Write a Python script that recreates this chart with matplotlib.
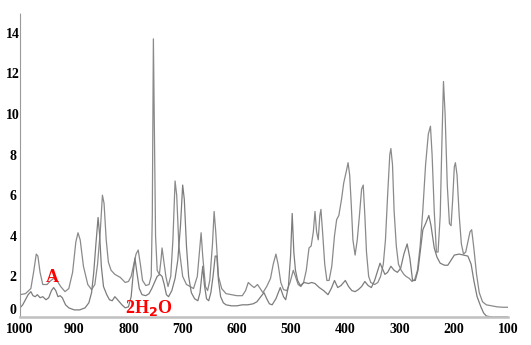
import matplotlib
matplotlib.use("Agg")
import matplotlib.pyplot as plt

# spectrum A (wavenumber, intensity)
a_x = [1000, 990, 980, 975, 970, 967, 963, 958, 950, 945, 938, 932, 925, 917, 910,
       903, 897, 893, 889, 883, 875, 868, 862, 857, 852, 848, 845, 841, 837, 832,
       825, 815, 806, 800, 795, 790, 786, 782, 778, 774, 768, 762, 758, 756, 754,
       752, 750, 747, 743, 740, 738, 735, 731, 727, 722, 718, 714, 711, 707, 700,
       693, 686, 680, 673, 669, 666, 663, 658, 654, 650, 645, 642, 639, 634, 628,
       620, 610, 600, 590, 584, 579, 573, 568, 562, 557, 552, 545, 538, 533, 528,
       524, 519, 514, 508, 502, 496, 492, 487, 482, 477, 472, 467, 463, 459, 456,
       453, 450, 447, 445, 442, 438, 434, 430, 425, 420, 416, 412, 407, 403, 398,
       395, 392, 389, 386, 382, 378, 374, 370, 367, 364, 361, 357, 353, 346, 340,
       335, 330, 326, 322, 318, 316, 313, 310, 306, 302, 297, 292, 288, 282, 277,
       272, 267, 262, 257, 252, 247, 243, 240, 236, 232, 229, 225, 222, 219, 216,
       212, 208, 205, 202, 199, 197, 194, 190, 186, 182, 178, 174, 170, 167, 163,
       158, 153, 147, 140, 130, 120, 110, 100]
a_y = [1.1, 1.15, 1.4, 2.2, 3.1, 3.0, 2.2, 1.6, 1.6, 1.75, 1.9, 1.8, 1.5, 1.25, 1.4,
       2.2, 3.7, 4.15, 3.8, 2.5, 1.6, 1.35, 1.6, 2.6, 4.2, 6.0, 5.6, 3.8, 2.7, 2.3,
       2.1, 1.95, 1.7, 1.75, 2.0, 2.6, 3.1, 3.3, 2.6, 1.8, 1.55, 1.6, 2.0, 5.0, 13.7,
       9.0, 4.0, 2.3, 2.1, 2.8, 3.4, 2.8, 2.0, 1.5, 2.0, 3.8, 6.7, 6.0, 3.5, 2.0,
       1.6, 1.5, 1.4, 2.0, 3.2, 4.15, 3.0, 1.5, 1.3, 1.8, 3.6, 5.2, 4.2, 2.0, 1.4,
       1.15, 1.1, 1.05, 1.05, 1.3, 1.7, 1.55, 1.45, 1.6, 1.4, 1.2, 1.5, 1.9, 2.6, 3.1,
       2.6, 1.7, 1.35, 1.3, 1.7, 2.3, 2.0, 1.6, 1.5, 1.7, 2.3, 3.4, 3.5, 4.2, 5.2,
       4.2, 3.8, 5.0, 5.3, 4.2, 2.6, 1.8, 1.8, 2.5, 4.0, 4.8, 5.0, 5.8, 6.6, 7.2,
       7.6, 7.0, 5.5, 3.8, 3.05, 3.8, 5.0, 6.3, 6.5, 5.0, 3.2, 2.0, 1.7, 1.6, 1.7,
       2.0, 2.6, 3.8, 6.0, 8.0, 8.3, 7.5, 5.2, 3.5, 2.6, 2.3, 2.1, 2.0, 1.9, 1.75,
       1.85, 2.3, 3.5, 5.3, 7.5, 9.0, 9.4, 8.0, 5.2, 3.2, 3.2, 5.0, 8.5, 11.6, 10.0,
       6.5, 4.6, 4.5, 5.8, 7.4, 7.6, 7.0, 5.0, 3.6, 3.1, 3.2, 3.7, 4.2, 4.3, 3.4,
       2.1, 1.2, 0.75, 0.6, 0.55, 0.5, 0.48, 0.48]

# spectrum 2H2O
b_x = [1000, 995, 990, 985, 980, 976, 972, 968, 963, 958, 952, 947, 942, 938, 934,
       930, 926, 922, 916, 910, 900, 890, 880, 873, 868, 864, 860, 856, 853, 850,
       846, 840, 835, 830, 825, 820, 812, 806, 800, 795, 791, 788, 785, 780, 775,
       768, 762, 757, 752, 747, 742, 738, 734, 730, 726, 720, 714, 709, 704, 700,
       697, 693, 689, 684, 678, 672, 668, 665, 663, 660, 656, 652, 648, 644, 640,
       637, 634, 630, 625, 620, 610, 600, 590, 580, 570, 563, 556, 550, 545, 540,
       535, 528, 520, 514, 510, 505, 501, 498, 495, 492, 488, 483, 476, 468, 462,
       456, 448, 440, 432, 426, 420, 414, 408, 400, 394, 388, 382, 376, 370, 364,
       358, 352, 346, 340, 336, 332, 327, 322, 316, 310, 304, 298, 292, 286, 281,
       276, 271, 266, 262, 257, 252, 246, 242, 236, 231, 225, 217, 211, 205, 199,
       190, 182, 174, 168, 163, 157, 150, 145, 140, 130, 120, 110, 100]
b_y = [0.45, 0.6, 0.85, 1.1, 1.25, 1.05, 1.0, 1.1, 0.95, 1.0, 0.85, 0.95, 1.3, 1.45, 1.3,
       1.0, 1.05, 0.95, 0.6, 0.45, 0.35, 0.35, 0.45, 0.7, 1.2, 2.2, 3.6, 4.9, 4.0, 2.5,
       1.5, 1.1, 0.85, 0.8, 1.0, 0.85, 0.6, 0.45, 0.5, 1.0, 2.2, 2.9, 2.3, 1.4, 1.1,
       1.05, 1.15, 1.4, 1.7, 2.0, 2.1, 2.0, 1.6, 1.1, 1.0, 1.3, 1.9, 2.8, 4.5, 6.5,
       5.8, 3.5, 2.0, 1.2, 0.9, 0.8, 1.2, 2.0, 2.5, 1.6, 0.9, 0.8, 1.2, 2.0, 3.0,
       3.0, 1.8, 1.0, 0.7, 0.6, 0.55, 0.55, 0.6, 0.6, 0.65, 0.75, 1.0, 1.2, 0.9, 0.65,
       0.6, 0.9, 1.45, 1.0, 0.85, 1.5, 3.0, 5.1, 3.2, 2.3, 1.8, 1.55, 1.7, 1.65, 1.7,
       1.65, 1.45, 1.3, 1.1, 1.4, 1.8, 1.45, 1.55, 1.8, 1.5, 1.3, 1.25, 1.35, 1.5, 1.75,
       1.55, 1.45, 1.8, 2.3, 2.65, 2.4, 2.1, 2.2, 2.5, 2.3, 2.2, 2.4, 3.1, 3.6, 2.9,
       1.8, 1.8, 2.3, 3.2, 4.3, 4.6, 5.0, 4.5, 3.4, 2.95, 2.65, 2.55, 2.55, 2.8, 3.05,
       3.1, 3.05, 3.0, 2.6, 1.8, 1.0, 0.5, 0.2, 0.05, 0.0, 0.0, 0.0, 0.0]

x_ticks = [1000, 900, 800, 700, 600, 500, 400, 300, 200, 100]
y_ticks = [0, 2, 4, 6, 8, 10, 12, 14]


def main():
    fig = plt.figure(figsize=(5.31, 3.45), dpi=100)
    ax = fig.add_axes([20 / 531, 28 / 345, 488 / 531, 304.5 / 345])

    ax.plot(a_x, a_y, color="#8a8a8a", lw=0.9)
    ax.plot(b_x, b_y, color="#7c7c7c", lw=0.9)

    ax.set_xlim(1000, 100)
    ax.set_ylim(0, 15)

    font = {"family": "Liberation Serif", "weight": "bold", "size": 10}
    ax.set_xticks(x_ticks)
    ax.set_xticklabels([str(v) for v in x_ticks], fontdict=font)
    ax.set_yticks(y_ticks)
    ax.set_yticklabels([str(v) for v in y_ticks], fontdict=font, ha="center")
    ax.tick_params(axis="x", length=0, pad=4)
    ax.tick_params(axis="y", length=0, pad=5)
    # lift the "0" a touch so it sits clear of "1000"
    ax.get_yticklabels()[0].set_verticalalignment("bottom")

    ax.spines["top"].set_visible(False)
    ax.spines["right"].set_visible(False)
    ax.spines["left"].set_color("#9a9a9a")
    ax.spines["left"].set_linestyle((0, (1, 1)))
    ax.spines["left"].set_linewidth(0.8)
    ax.spines["bottom"].set_color("#c0c0c0")
    ax.spines["bottom"].set_linewidth(1.8)

    ax.text(952, 1.7, "A", color="red", fontsize=13, family="Liberation Serif",
            weight="bold")
    ax.text(806, 0.2, "2H$_\\mathbf{2}$O", color="red", fontsize=13,
            family="Liberation Serif", weight="bold")

    fig.savefig("out.png", dpi=100)


if __name__ == "__main__":
    main()
